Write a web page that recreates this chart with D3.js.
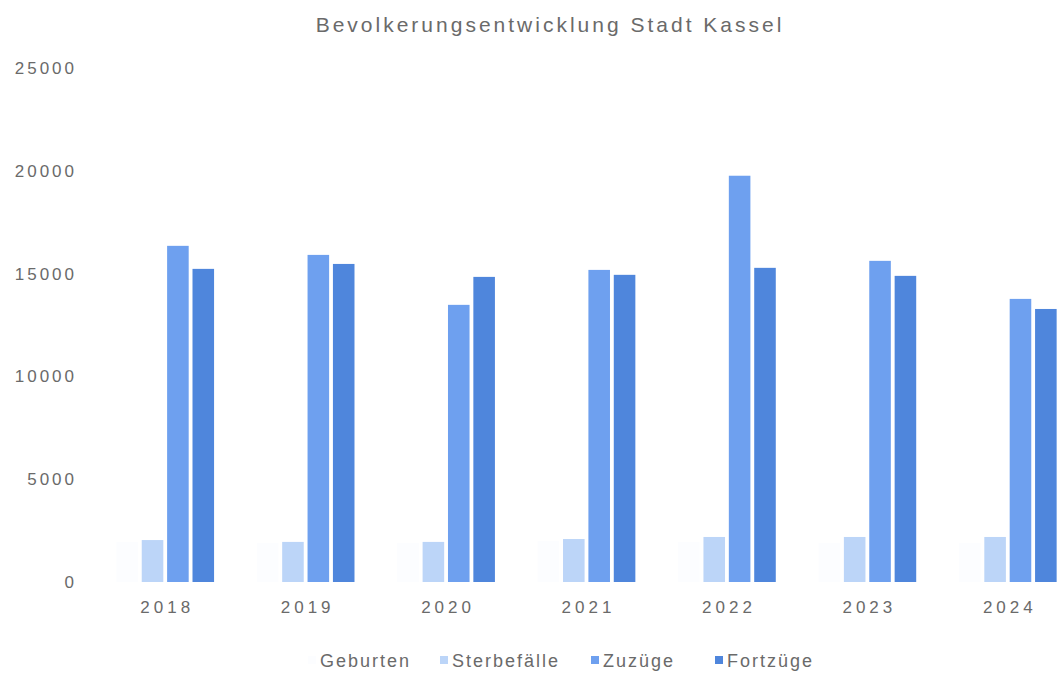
<!DOCTYPE html>
<html>
<head>
<meta charset="utf-8">
<script src="https://cdn.jsdelivr.net/npm/d3@7"></script>
<style>
  body { margin: 0; background: #fff; }
  svg text { font-family: "Liberation Sans", Arial, sans-serif; fill: #6a6a6a; }
</style>
</head>
<body>
<svg id="chart"></svg>
<script>
// Data
var years = ["2018", "2019", "2020", "2021", "2022", "2023", "2024"];
var series = ["Geburten", "Sterbefälle", "Zuzüge", "Fortzüge"];
var geburten = [1950, 1900, 1900, 2000, 1950, 1900, 1900];
var sterbefaelle = [2040, 1950, 1950, 2090, 2190, 2190, 2190];
var zuzuege = [16350, 15910, 13480, 15180, 19760, 15620, 13770];
var fortzuege = [15230, 15470, 14840, 14940, 15280, 14890, 13280];
var yTicks = [0, 5000, 10000, 15000, 20000, 25000];
var colors = ["#fcfdff", "#bcd5f8", "#6ea0ef", "#4f86dc"];

var width = 1064, height = 675;

var svg = d3.select("#chart")
  .attr("width", width)
  .attr("height", height);

var values = [geburten, sterbefaelle, zuzuege, fortzuege];
var rows = years.map(function(y, i) {
  return { year: y, vals: series.map(function(s, j) { return { key: s, value: values[j][i] }; }) };
});

// scales
var x0 = d3.scaleBand().domain(years).range([95, 1078]).paddingInner(0.25).paddingOuter(0.125);
var x1 = d3.scaleBand().domain(series).range([0, x0.bandwidth()]).padding(0.15);
var y = d3.scaleLinear().domain([0, 25000]).range([582, 68]);
var color = d3.scaleOrdinal().domain(series).range(colors);

// title
svg.append("text")
  .attr("x", 550).attr("y", 32)
  .attr("text-anchor", "middle")
  .style("font-size", "21px")
  .style("letter-spacing", "3px")
  .text("Bevolkerungsentwicklung Stadt Kassel");

// y axis labels
var yAxis = d3.axisLeft(y).tickValues(yTicks).tickFormat(d3.format("d")).tickSize(0).tickPadding(0);
var gy = svg.append("g").attr("transform", "translate(77,0)").call(yAxis);
gy.select(".domain").remove();
gy.selectAll("text")
  .style("font-size", "17px")
  .style("letter-spacing", "3px")
  .style("font-family", "Liberation Sans, Arial, sans-serif")
  .attr("fill", "#6a6a6a");

// x axis labels
var xAxis = d3.axisBottom(x0).tickSize(0).tickPadding(0);
var gx = svg.append("g").attr("transform", "translate(2,601)").call(xAxis);
gx.select(".domain").remove();
gx.selectAll("text")
  .style("font-size", "17px")
  .style("letter-spacing", "4px")
  .style("font-family", "Liberation Sans, Arial, sans-serif")
  .attr("fill", "#6a6a6a");

// bars
var groups = svg.selectAll(".year")
  .data(rows)
  .enter().append("g")
  .attr("class", "year")
  .attr("transform", function(d) { return "translate(" + x0(d.year) + ",0)"; });

groups.selectAll("rect")
  .data(function(d) { return d.vals; })
  .enter().append("rect")
  .attr("x", function(d) { return x1(d.key); })
  .attr("width", x1.bandwidth())
  .attr("y", function(d) { return y(d.value); })
  .attr("height", function(d) { return y(0) - y(d.value); })
  .attr("fill", function(d) { return color(d.key); });

// legend
var legendX = [308, 440, 591, 715];
var legend = svg.selectAll(".legend")
  .data(series)
  .enter().append("g")
  .attr("class", "legend")
  .attr("transform", function(d, i) { return "translate(" + legendX[i] + ",661)"; });

legend.append("rect")
  .attr("y", -5).attr("width", 8).attr("height", 8)
  .attr("fill", function(d) { return color(d); });

legend.append("text")
  .attr("x", 12).attr("dy", "0.35em")
  .style("font-size", "18px")
  .style("letter-spacing", "2px")
  .text(function(d) { return d; });
</script>
</body>
</html>
